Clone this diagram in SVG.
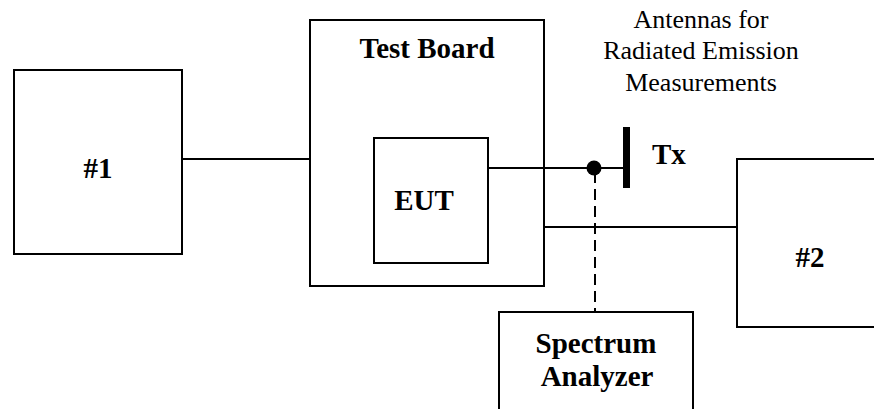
<svg xmlns="http://www.w3.org/2000/svg" width="874" height="409" viewBox="0 0 874 409">
  <style>
    .box { fill: #ffffff; stroke: #000000; stroke-width: 2; }
    .wire { fill: none; stroke: #000000; stroke-width: 2; }
    .probe { fill: none; stroke: #000000; stroke-width: 2; stroke-dasharray: 11 6; }
    .lbl { font-family: "Liberation Serif", "Times New Roman", serif; font-weight: bold; font-size: 29px; fill: #000000; }
    .note { font-family: "Liberation Serif", "Times New Roman", serif; font-size: 26px; fill: #000000; text-anchor: middle; }
  </style>
  <rect width="874" height="409" fill="#ffffff"/>

  <!-- auxiliary equipment #1 -->
  <g id="node-aux1">
    <rect class="box" x="14" y="70" width="168" height="184"/>
    <text class="lbl" x="98" y="178" text-anchor="middle">#1</text>
  </g>

  <!-- test board holding the EUT -->
  <g id="node-testboard">
    <rect class="box" x="310" y="20" width="234" height="266"/>
    <text class="lbl" x="427" y="58" text-anchor="middle">Test Board</text>
  </g>

  <g id="node-eut">
    <rect class="box" x="374" y="138" width="114" height="125"/>
    <text class="lbl" x="424" y="210" text-anchor="middle">EUT</text>
  </g>

  <!-- transmitting antenna -->
  <g id="node-tx">
    <rect x="623" y="127" width="7" height="61" fill="#000000"/>
    <text class="lbl" x="652" y="164">Tx</text>
  </g>

  <g id="node-antenna-note">
    <text class="note" x="701" y="28">Antennas for</text>
    <text class="note" x="701" y="59">Radiated Emission</text>
    <text class="note" x="701" y="91">Measurements</text>
  </g>

  <!-- auxiliary equipment #2 -->
  <g id="node-aux2">
    <rect class="box" x="737" y="159" width="150" height="168"/>
    <text class="lbl" x="810" y="267" text-anchor="middle">#2</text>
  </g>

  <!-- measuring receiver -->
  <g id="node-analyzer">
    <rect class="box" x="499" y="312" width="194" height="110"/>
    <text class="lbl" x="596" y="353" text-anchor="middle">Spectrum</text>
    <text class="lbl" x="597" y="386" text-anchor="middle">Analyzer</text>
  </g>

  <!-- connectors, drawn over the boxes -->
  <g id="connectors">
    <line class="wire" x1="182" y1="159" x2="310" y2="159"/>
    <line class="wire" x1="488" y1="168" x2="624" y2="168"/>
    <line class="wire" x1="544" y1="227" x2="737" y2="227"/>
    <line class="probe" x1="595" y1="172" x2="595" y2="312"/>
    <circle cx="594" cy="168" r="7.5" fill="#000000"/>
  </g>
</svg>
